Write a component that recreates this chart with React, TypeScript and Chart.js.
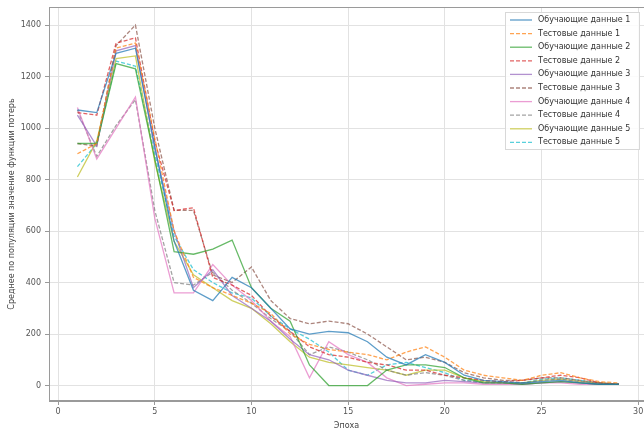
import React, { useEffect, useRef } from "react";
import { Chart, registerables } from "chart.js";

Chart.register(...registerables);

const epochs = [1, 2, 3, 4, 5, 6, 7, 8, 9, 10, 11, 12, 13, 14, 15, 16, 17, 18, 19, 20, 21, 22, 23, 24, 25, 26, 27, 28, 29];

const train1 = [1070, 1060, 1290, 1310, 930, 560, 370, 330, 420, 380, 300, 220, 200, 210, 205, 170, 110, 80, 120, 90, 40, 20, 15, 10, 15, 20, 10, 5, 5];
const test1 = [900, 940, 1310, 1330, 960, 600, 420, 380, 350, 320, 280, 200, 160, 140, 130, 120, 100, 130, 150, 110, 60, 40, 30, 20, 40, 50, 30, 15, 10];
const train2 = [940, 940, 1250, 1230, 880, 520, 510, 530, 565, 380, 300, 250, 80, 0, 0, 0, 60, 80, 80, 70, 30, 10, 10, 5, 10, 15, 10, 5, 5];
const test2 = [1060, 1050, 1330, 1350, 950, 680, 690, 420, 390, 350, 270, 210, 150, 120, 110, 90, 80, 60, 60, 40, 30, 20, 15, 20, 30, 40, 30, 10, 5];
const train3 = [1050, 930, 1300, 1320, 920, 600, 380, 450, 350, 300, 250, 180, 120, 100, 60, 40, 20, 10, 10, 20, 15, 10, 10, 5, 10, 15, 10, 5, 5];
const test3 = [940, 930, 1320, 1400, 1000, 680, 680, 430, 400, 460, 330, 260, 240, 250, 240, 200, 150, 100, 110, 90, 50, 30, 20, 20, 30, 30, 20, 10, 5];
const train4 = [1080, 880, 1000, 1120, 650, 360, 360, 470, 390, 330, 250, 190, 30, 170, 120, 90, 30, 0, 5, 10, 10, 5, 5, 5, 10, 10, 5, 5, 5];
const test4 = [1070, 890, 1010, 1110, 680, 400, 390, 440, 370, 320, 260, 210, 120, 150, 130, 100, 60, 40, 50, 40, 20, 10, 10, 10, 20, 25, 15, 10, 5];
const train5 = [810, 950, 1270, 1280, 870, 560, 430, 380, 330, 300, 240, 170, 110, 90, 80, 70, 60, 40, 60, 60, 30, 15, 10, 10, 20, 25, 15, 10, 5];
const test5 = [850, 940, 1260, 1240, 900, 580, 450, 400, 360, 340, 270, 220, 180, 130, 60, 40, 80, 90, 70, 50, 20, 15, 10, 10, 25, 30, 20, 10, 5];

const seriesLabels = [
  "Обучающие данные 1", "Тестовые данные 1",
  "Обучающие данные 2", "Тестовые данные 2",
  "Обучающие данные 3", "Тестовые данные 3",
  "Обучающие данные 4", "Тестовые данные 4",
  "Обучающие данные 5", "Тестовые данные 5",
];
const seriesValues = [train1, test1, train2, test2, train3, test3, train4, test4, train5, test5];
const seriesColors = [
  "rgba(31,119,180,0.72)", "rgba(255,127,14,0.72)",
  "rgba(44,160,44,0.72)", "rgba(214,39,40,0.72)",
  "rgba(148,103,189,0.72)", "rgba(140,86,75,0.72)",
  "rgba(227,119,194,0.72)", "rgba(127,127,127,0.72)",
  "rgba(188,189,34,0.72)", "rgba(23,190,207,0.72)",
];

const xTicks = [0, 5, 10, 15, 20, 25, 30];
const yTicks = [0, 200, 400, 600, 800, 1000, 1200, 1400];

const FONT = "'DejaVu Sans', sans-serif";

const frameAndLegend = {
  id: "frameAndLegend",
  afterDatasetsDraw(chart: any) {
    const { ctx, chartArea } = chart;
    ctx.save();
    ctx.strokeStyle = "#9a9a9a";
    ctx.lineWidth = 1;
    ctx.strokeRect(chartArea.left + 0.5, chartArea.top + 0.5, chartArea.right - chartArea.left, chartArea.bottom - chartArea.top - 1);
    // legend
    const bx = 505, by = 12, bw = 134, rowH = 13.6;
    const bh = 137;
    ctx.fillStyle = "rgba(255,255,255,0.85)";
    ctx.strokeStyle = "#d8d8d8";
    ctx.fillRect(bx, by, bw, bh);
    ctx.strokeRect(bx + 0.5, by + 0.5, bw, bh);
    ctx.font = `8px ${FONT}`;
    ctx.textBaseline = "middle";
    seriesLabels.forEach((lab, i) => {
      const y = by + 8 + i * rowH;
      ctx.strokeStyle = seriesColors[i];
      ctx.lineWidth = 1.3;
      ctx.setLineDash(i % 2 === 1 ? [4, 2] : []);
      ctx.beginPath();
      ctx.moveTo(bx + 5, y);
      ctx.lineTo(bx + 27, y);
      ctx.stroke();
      ctx.setLineDash([]);
      ctx.fillStyle = "#333";
      ctx.fillText(lab, bx + 33, y);
    });
    ctx.restore();
  },
};

export default function App() {
  const ref = useRef<HTMLCanvasElement>(null);
  useEffect(() => {
    document.body.style.margin = "0";
    const datasets = seriesLabels.map((label, i) => ({
      label,
      data: epochs.map((e, j) => ({ x: e, y: seriesValues[i][j] })),
      borderColor: seriesColors[i],
      backgroundColor: seriesColors[i],
      borderWidth: 1.3,
      borderDash: i % 2 === 1 ? [4, 2] : [],
      pointRadius: 0,
      tension: 0,
      fill: false,
    }));
    const chart = new Chart(ref.current!, {
      type: "line",
      data: { datasets },
      plugins: [frameAndLegend],
      options: {
        animation: false,
        responsive: false,
        layout: { padding: { top: 7, right: 0, left: 0, bottom: 0 } },
        plugins: { legend: { display: false }, tooltip: { enabled: false } },
        scales: {
          x: {
            type: "linear",
            min: -0.47,
            max: 30.3,
            afterBuildTicks: (s: any) => { s.ticks = xTicks.map((v) => ({ value: v })); },
            afterFit: (s: any) => { s.height = 34; s.paddingRight = 0; s.paddingLeft = 0; },
            grid: { color: "#e2e2e2", tickLength: 4, tickColor: "#9a9a9a" },
            border: { color: "#9a9a9a" },
            ticks: { color: "#555", font: { family: FONT, size: 8 }, padding: 2, maxRotation: 0 },
            title: { display: true, text: "Эпоха", color: "#444", font: { family: FONT, size: 8 }, padding: { top: 1, bottom: 4 } },
          },
          y: {
            type: "linear",
            min: -60,
            max: 1470,
            afterBuildTicks: (s: any) => { s.ticks = yTicks.map((v) => ({ value: v })); },
            afterFit: (s: any) => { s.width = 49; s.paddingTop = 0; s.paddingBottom = 0; },
            grid: { color: "#e2e2e2", tickLength: 4, tickColor: "#9a9a9a" },
            border: { color: "#9a9a9a" },
            ticks: { color: "#555", font: { family: FONT, size: 8 }, padding: 4, callback: (v: any) => String(v) },
            title: { display: true, text: "Среднее по популяции значение функции потерь", color: "#444", font: { family: FONT, size: 8 }, padding: { top: 7, bottom: 0 } },
          },
        },
      },
    } as any);
    return () => chart.destroy();
  }, []);
  return (
    <div style={{ position: "fixed", left: 0, top: 0, width: 644, height: 435, background: "#fff" }}>
      <canvas ref={ref} width={644} height={435} style={{ display: "block" }} />
    </div>
  );
}
